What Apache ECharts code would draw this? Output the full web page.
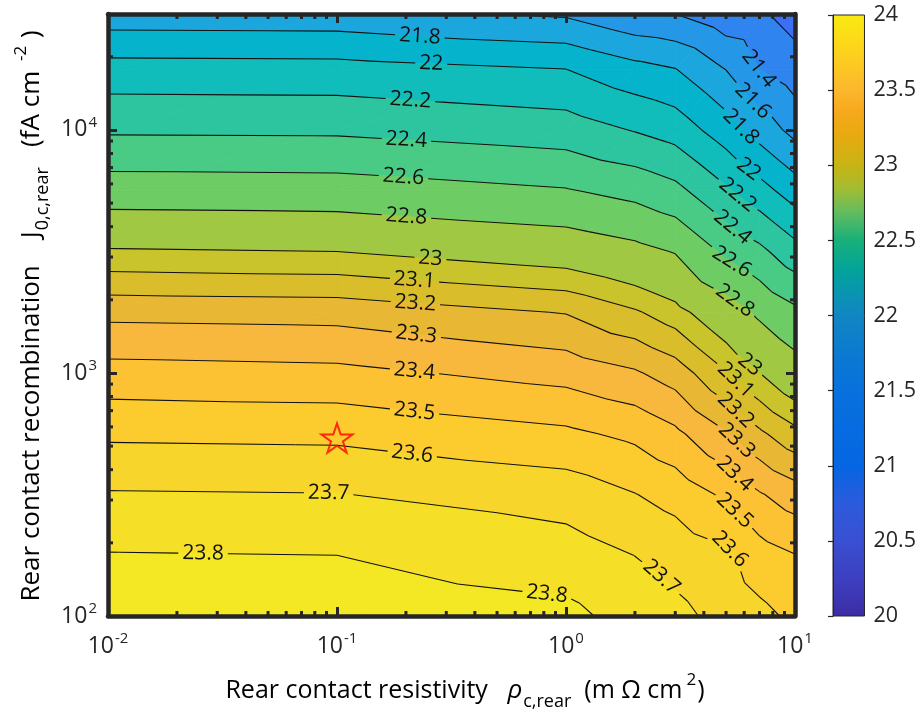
<!DOCTYPE html>
<html><head><meta charset="utf-8">
<script src="https://cdn.jsdelivr.net/npm/echarts@6/dist/echarts.min.js"></script>
<style>html,body{margin:0;padding:0;background:#fff}#c{width:919px;height:714px}</style>
</head><body><div id="c"></div>
<script>
// ---------------- DATA ----------------
// x: rear contact resistivity rho (m Ohm cm^2), y: J0 (fA cm^-2)
const rhoGrid = [0.01, 0.1, 1, 2, 3, 5, 7, 10];
const j0Grid = [100, 177.8, 316.2, 562.3, 1000, 1778, 3162, 5623, 10000, 17783, 30000];
// contoured quantity at each (j0 row, rho column)
const jscRow100   = [23.870, 23.860, 23.826, 23.762, 23.725, 23.670, 23.626, 23.580];
const jscRow178   = [23.805, 23.800, 23.746, 23.699, 23.666, 23.622, 23.543, 23.503];
const jscRow316   = [23.708, 23.703, 23.657, 23.603, 23.563, 23.482, 23.409, 23.349];
const jscRow562   = [23.582, 23.576, 23.520, 23.477, 23.422, 23.309, 23.219, 23.132];
const jscRow1000  = [23.438, 23.426, 23.363, 23.312, 23.253, 23.107, 23.001, 22.891];
const jscRow1778  = [23.273, 23.264, 23.195, 23.113, 23.044, 22.894, 22.767, 22.644];
const jscRow3162  = [23.015, 23.000, 22.926, 22.856, 22.790, 22.562, 22.448, 22.274];
const jscRow5623  = [22.705, 22.695, 22.614, 22.540, 22.456, 22.230, 22.078, 21.903];
const jscRow10000 = [22.373, 22.368, 22.297, 22.189, 22.115, 21.894, 21.717, 21.538];
const jscRow17783 = [22.081, 22.073, 22.001, 21.866, 21.806, 21.595, 21.397, 21.287];
const jscRow30000 = [21.685, 21.677, 21.573, 21.433, 21.400, 21.270, 21.230, 21.120];
const jscRows = [jscRow100, jscRow178, jscRow316, jscRow562, jscRow1000, jscRow1778,
                 jscRow3162, jscRow5623, jscRow10000, jscRow17783, jscRow30000];

const contourLevels = [21.2, 21.4, 21.6, 21.8, 22.0, 22.2, 22.4, 22.6, 22.8,
                       23.0, 23.1, 23.2, 23.3, 23.4, 23.5, 23.6, 23.7, 23.8];
// contour labels: level and the rho at which the label sits on the line
const labelLevels = [21.4, 21.6, 21.8, 22.0, 22.2, 22.4, 22.6, 22.8, 23.0, 23.1, 23.2, 23.3, 23.4, 23.5, 23.6, 23.7, 23.8,
                     21.8, 22.0, 22.2, 22.4, 22.6, 22.8, 23.0, 23.1, 23.2, 23.3, 23.4, 23.5, 23.6, 23.7, 23.8];
const labelRho =    [6.95, 6.55, 5.80, 6.28, 5.62, 5.34, 5.29, 5.46, 6.35, 5.51, 5.51, 5.57, 5.46, 5.46, 5.19, 2.61, 0.826,
                     0.230, 0.258, 0.209, 0.201, 0.195, 0.201, 0.256, 0.218, 0.220, 0.222, 0.218, 0.218, 0.213, 0.092, 0.026];
const starPoint = [0.1, 540];
const xTickExponents = [-2, -1, 0, 1];
const yTickExponents = [2, 3, 4];
const colorbarTicks = [20, 20.5, 21, 21.5, 22, 22.5, 23, 23.5, 24];

// ---------------- STYLE ----------------
const FONT = '"Open Sans", "Noto Sans", sans-serif';
const AX = '#262626';
const bandColors = ['#3b6ff6', '#2f84f0', '#2497e6', '#1ba7dd', '#05b4cc', '#10bdba', '#2dc59f',
  '#49cb86', '#6ecc64', '#a1c843', '#c9c32c', '#d9bd2a', '#e8b834', '#f8b83d', '#fdc233',
  '#fccb2e', '#f8d52b', '#f6df27', '#f3e823'];
const cbStops = [[20.0, '#3c2da4'], [20.25, '#3d3fc0'], [20.5, '#3a4fd2'], [20.75, '#2c5bdc'], [21.0, '#0566e2'],
  [21.5, '#0871de'], [21.75, '#0b7ad0'], [22.0, '#1186c2'], [22.1, '#0c8fb8'], [22.3, '#02a39a'],
  [22.5, '#18b07a'], [22.7, '#68bd5c'], [22.85, '#a5bc30'], [23.0, '#c8b414'], [23.2, '#e8aa10'],
  [23.35, '#f7a81c'], [23.5, '#fbb72e'], [23.75, '#fdd21c'], [24.0, '#f9ea12']];

// ---------------- HELPERS ----------------
const LX = rhoGrid.map(v => Math.log10(v));
const LY = j0Grid.map(v => Math.log10(v));
function locate(arr, v) { let i = 0; while (i < arr.length - 2 && v > arr[i + 1]) i++; return i; }
function field(u, v) {
  const i = locate(LX, u), j = locate(LY, v);
  const s = (u - LX[i]) / (LX[i + 1] - LX[i]), t = (v - LY[j]) / (LY[j + 1] - LY[j]);
  const z00 = jscRows[j][i], z10 = jscRows[j][i + 1], z11 = jscRows[j + 1][i + 1], z01 = jscRows[j + 1][i];
  if (s >= t) return z00 + s * (z10 - z00) + t * (z11 - z10);
  return z00 + t * (z01 - z00) + s * (z11 - z01);
}
function clipPoly(poly, L, dir) {
  if (!isFinite(L)) return poly;
  const out = [];
  for (let a = 0; a < poly.length; a++) {
    const A = poly[a], B = poly[(a + 1) % poly.length];
    const inA = dir * (A.z - L) >= 0, inB = dir * (B.z - L) >= 0;
    if (inA) out.push(A);
    if (inA !== inB) {
      const t = (L - A.z) / (B.z - A.z);
      out.push({ x: A.x + t * (B.x - A.x), y: A.y + t * (B.y - A.y), z: L });
    }
  }
  return out;
}
function levelText(L) { return String(Math.round(L * 10) / 10); }
function textWidth(s) { let w = 0; for (const ch of s) w += ch === '.' ? 5.5 : 12; return w; }

function renderContours(params, api) {
  const nx = rhoGrid.length, ny = j0Grid.length;
  const P = [];
  for (let j = 0; j < ny; j++) {
    const row = [];
    for (let i = 0; i < nx; i++) {
      const c = api.coord([rhoGrid[i], j0Grid[j]]);
      row.push({ x: c[0], y: c[1], z: jscRows[j][i] });
    }
    P.push(row);
  }
  const tris = [];
  for (let j = 0; j < ny - 1; j++) for (let i = 0; i < nx - 1; i++) {
    tris.push([P[j][i], P[j][i + 1], P[j + 1][i + 1]]);
    tris.push([P[j][i], P[j + 1][i + 1], P[j + 1][i]]);
  }
  const children = [];
  const bounds = [-Infinity].concat(contourLevels, [Infinity]);
  for (const tri of tris) {
    const zs = tri.map(p => p.z), zmin = Math.min(...zs), zmax = Math.max(...zs);
    for (let k = 0; k < bounds.length - 1; k++) {
      const lo = bounds[k], hi = bounds[k + 1];
      if (zmax < lo || zmin > hi) continue;
      let poly = clipPoly(tri, lo, 1); poly = clipPoly(poly, hi, -1);
      if (poly.length < 3) continue;
      children.push({ type: 'polygon', shape: { points: poly.map(p => [p.x, p.y]) },
        style: { fill: bandColors[k], stroke: bandColors[k], lineWidth: 0.8 } });
    }
  }
  // labels
  const labels = [];
  for (let n = 0; n < labelLevels.length; n++) {
    const L = labelLevels[n], u = Math.log10(labelRho[n]);
    let a = LY[0], b = LY[ny - 1];
    let fa = field(u, a) - L; const fb = field(u, b) - L;
    if (fa * fb > 0) continue;
    for (let it = 0; it < 60; it++) {
      const m = (a + b) / 2, fm = field(u, m) - L;
      if (fm * fa > 0) { a = m; fa = fm; } else { b = m; }
    }
    const v = (a + b) / 2;
    const c = api.coord([labelRho[n], Math.pow(10, v)]);
    const d = 0.01;
    const dzdu = (field(u + d, v) - field(u - d, v)) / (2 * d);
    const dzdv = (field(u, v + d) - field(u, v - d)) / (2 * d);
    const cx1 = api.coord([Math.pow(10, u + 0.1), Math.pow(10, v)]);
    const cy1 = api.coord([labelRho[n], Math.pow(10, v + 0.1)]);
    const kx = (cx1[0] - c[0]) / 0.1, ky = (cy1[1] - c[1]) / 0.1;
    const gx = dzdu / kx, gy = dzdv / ky;
    const tx = -gy, ty = gx;
    let ang = -Math.atan2(ty, tx);
    if (ang > Math.PI / 2) ang -= Math.PI;
    if (ang < -Math.PI / 2) ang += Math.PI;
    const txt = levelText(L);
    labels.push({ L, x: c[0], y: c[1], r: textWidth(txt) / 2 + 4, ang, txt });
  }
  // lines
  for (const tri of tris) {
    for (const L of contourLevels) {
      const pts = [];
      for (let e = 0; e < 3; e++) {
        const A = tri[e], B = tri[(e + 1) % 3];
        if ((A.z >= L) !== (B.z >= L)) {
          const t = (L - A.z) / (B.z - A.z);
          pts.push([A.x + t * (B.x - A.x), A.y + t * (B.y - A.y)]);
        }
      }
      if (pts.length !== 2) continue;
      const p = pts[0], q = pts[1];
      const dx = q[0] - p[0], dy = q[1] - p[1], len2 = dx * dx + dy * dy;
      if (len2 < 1e-9) continue;
      let segs = [[0, 1]];
      for (const lb of labels) {
        if (lb.L !== L) continue;
        const fx = p[0] - lb.x, fy = p[1] - lb.y;
        const B2 = 2 * (fx * dx + fy * dy), C2 = fx * fx + fy * fy - lb.r * lb.r;
        const disc = B2 * B2 - 4 * len2 * C2;
        if (disc <= 0) continue;
        const sq = Math.sqrt(disc);
        const t1 = (-B2 - sq) / (2 * len2), t2 = (-B2 + sq) / (2 * len2);
        const ns = [];
        for (const [s0, s1] of segs) {
          if (t2 <= s0 || t1 >= s1) { ns.push([s0, s1]); continue; }
          if (t1 > s0) ns.push([s0, t1]);
          if (t2 < s1) ns.push([t2, s1]);
        }
        segs = ns;
      }
      for (const [s0, s1] of segs) children.push({ type: 'line',
        shape: { x1: p[0] + s0 * dx, y1: p[1] + s0 * dy, x2: p[0] + s1 * dx, y2: p[1] + s1 * dy },
        style: { stroke: '#111', lineWidth: 1.1 } });
    }
  }
  for (const lb of labels) {
    children.push({ type: 'text', x: lb.x, y: lb.y, rotation: lb.ang,
      style: { text: lb.txt, fill: '#111', fontSize: 21, fontFamily: FONT, align: 'center', verticalAlign: 'middle' } });
  }
  return { type: 'group', children };
}

function renderMinorTicks(params, api) {
  const cs = params.coordSys, len = 5, w = 3, ch = [];
  const xs = [], ys = [];
  for (const e of [-2, -1, 0]) for (let m = 2; m <= 9; m++) xs.push(m * Math.pow(10, e));
  for (const e of [2, 3, 4]) for (let m = 2; m <= 9; m++) { const v = m * Math.pow(10, e); if (v < 30000) ys.push(v); }
  const st = { stroke: AX, lineWidth: w };
  for (const v of xs) {
    const x = api.coord([v, 1000])[0];
    ch.push({ type: 'line', shape: { x1: x, y1: cs.y + cs.height, x2: x, y2: cs.y + cs.height - len }, style: st });
    ch.push({ type: 'line', shape: { x1: x, y1: cs.y, x2: x, y2: cs.y + len }, style: st });
  }
  for (const v of ys) {
    const y = api.coord([1, v])[1];
    ch.push({ type: 'line', shape: { x1: cs.x, y1: y, x2: cs.x + len, y2: y }, style: st });
    ch.push({ type: 'line', shape: { x1: cs.x + cs.width, y1: y, x2: cs.x + cs.width - len, y2: y }, style: st });
  }
  return { type: 'group', children: ch };
}

function renderColorbar(params, api) {
  const p0 = api.coord([0, 24]), p1 = api.coord([1, 20]);
  const stops = cbStops.map(s => ({ offset: (24 - s[0]) / 4, color: s[1] }));
  return { type: 'group', children: [
    { type: 'rect', shape: { x: p0[0], y: p0[1], width: p1[0] - p0[0], height: p1[1] - p0[1] },
      style: { fill: new echarts.graphic.LinearGradient(0, 0, 0, 1, stops), stroke: AX, lineWidth: 1 } }
  ] };
}

function powLabel(v) {
  const e = Math.log10(v), r = Math.round(e);
  if (Math.abs(e - r) > 1e-6) return '';
  if (xTickExponents.indexOf(r) < 0 && yTickExponents.indexOf(r) < 0) return '';
  return '{b|10}{s|' + r + '}';
}
const tickRich = {
  b: { fontSize: 23, color: AX, fontFamily: FONT },
  s: { fontSize: 15, color: AX, fontFamily: FONT, padding: [0, 0, 15, 1] }
};
const boxLine = { show: true, lineStyle: { color: AX, width: 4.5 } };
const majorTick = { show: true, inside: true, length: 9, lineStyle: { color: AX, width: 3 } };

const chart = echarts.init(document.getElementById('c'), null, { width: 919, height: 714 });
chart.setOption({
  animation: false,
  backgroundColor: '#ffffff',
  grid: [
    { left: 108, top: 14, width: 687, height: 602, show: false },
    { left: 833, top: 15, width: 38, height: 601, show: false }
  ],
  xAxis: [
    { type: 'log', logBase: 10, gridIndex: 0, min: 0.01, max: 10, position: 'bottom', z: 10,
      axisLine: boxLine, axisTick: majorTick, splitLine: { show: false },
      axisLabel: { margin: 15, formatter: powLabel, rich: tickRich } },
    { type: 'log', logBase: 10, gridIndex: 0, min: 0.01, max: 10, position: 'top', z: 10,
      axisLine: boxLine, axisTick: majorTick, splitLine: { show: false }, axisLabel: { show: false } },
    { type: 'value', gridIndex: 1, min: 0, max: 1, show: false }
  ],
  yAxis: [
    { type: 'log', logBase: 10, gridIndex: 0, min: 100, max: 30000, position: 'left', z: 10,
      axisLine: boxLine, axisTick: majorTick, splitLine: { show: false },
      axisLabel: { margin: 11, formatter: powLabel, rich: tickRich } },
    { type: 'log', logBase: 10, gridIndex: 0, min: 100, max: 30000, position: 'right', z: 10,
      axisLine: boxLine, axisTick: majorTick, splitLine: { show: false }, axisLabel: { show: false } },
    { type: 'value', gridIndex: 1, min: colorbarTicks[0], max: colorbarTicks[colorbarTicks.length - 1], interval: 0.5,
      position: 'right', z: 10,
      axisLine: { show: true, lineStyle: { color: AX, width: 1 } },
      axisTick: { show: true, inside: true, length: 5, lineStyle: { color: AX, width: 1.2 } },
      splitLine: { show: false },
      axisLabel: { margin: 9, color: AX, fontSize: 21.5, fontFamily: FONT } }
  ],
  series: [
    { type: 'custom', xAxisIndex: 0, yAxisIndex: 0, z: 1, silent: true, data: [[1, 1000]], renderItem: renderContours },
    { type: 'custom', xAxisIndex: 0, yAxisIndex: 0, z: 11, silent: true, data: [[1, 1000]], renderItem: renderMinorTicks },
    { type: 'scatter', xAxisIndex: 0, yAxisIndex: 0, z: 5, silent: true, data: [starPoint],
      symbol: 'path://M50,0 L61.8,35.1 L98.9,35.1 L68.8,56.9 L80.2,91.9 L50,70.2 L19.8,91.9 L31.2,56.9 L1.1,35.1 L38.2,35.1 Z',
      symbolSize: 31, symbolKeepAspect: true,
      itemStyle: { color: 'rgba(0,0,0,0)', borderColor: '#ff0000', borderWidth: 2 } },
    { type: 'custom', xAxisIndex: 2, yAxisIndex: 2, z: 1, silent: true, data: [[0.5, 22]], renderItem: renderColorbar }
  ],
  graphic: [
    { type: 'text', x: 465, y: 691, silent: true,
      style: { text: '{t|Rear contact resistivity   }{r|ρ}{sub|c,rear}{t|  (m Ω cm}{sup|2}{t|)}',
        align: 'center', verticalAlign: 'middle',
        rich: {
          t: { fontSize: 25, color: AX, fontFamily: FONT },
          r: { fontSize: 26, color: AX, fontFamily: FONT, fontStyle: 'italic' },
          sub: { fontSize: 18, color: AX, fontFamily: FONT, padding: [22, 0, 0, 1] },
          sup: { fontSize: 17, color: AX, fontFamily: FONT, padding: [0, 1, 22, 4] }
        } } },
    { type: 'text', x: 32, y: 316, rotation: Math.PI / 2, silent: true,
      style: { text: '{t|Rear contact recombination    J}{sub|0,c,rear}{t|   (fA cm }{sup|-2}{t| )}',
        align: 'center', verticalAlign: 'middle',
        rich: {
          t: { fontSize: 26, color: AX, fontFamily: FONT },
          sub: { fontSize: 18, color: AX, fontFamily: FONT, padding: [22, 0, 0, 1] },
          sup: { fontSize: 17, color: AX, fontFamily: FONT, padding: [0, 1, 22, 3] }
        } } }
  ]
});
</script></body></html>
